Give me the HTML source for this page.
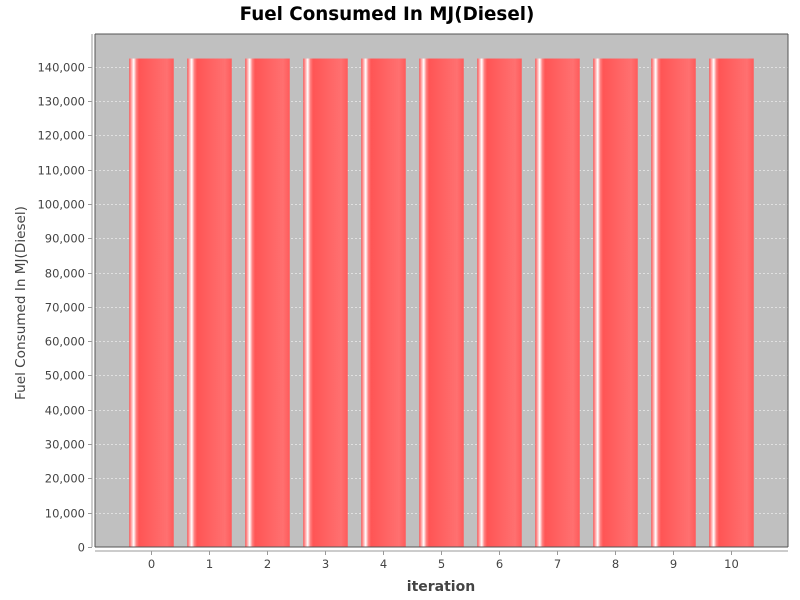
<!DOCTYPE html>
<html><head><meta charset="utf-8"><style>
body{margin:0;background:#fff;}
svg{display:block;font-family:"DejaVu Sans","Liberation Sans",sans-serif;}
</style></head><body>
<svg id="chart" width="800" height="600">
<defs>
<linearGradient id="bg" x1="0" x2="1" y1="0" y2="0">
<stop offset="0" stop-color="#ff5050"/>
<stop offset="0.04" stop-color="#ff9a9a"/>
<stop offset="0.1" stop-color="#ffffff"/>
<stop offset="0.16" stop-color="#ff8080"/>
<stop offset="0.22" stop-color="#ff5555"/>
<stop offset="0.55" stop-color="#ff6363"/>
<stop offset="0.85" stop-color="#ff7070"/>
<stop offset="1" stop-color="#ff5a5a"/>
</linearGradient>
</defs>
<text x="387" y="20" text-anchor="middle" font-size="18.3" font-weight="bold" fill="#000">Fuel Consumed In MJ(Diesel)</text>
<rect x="95" y="34" width="693" height="513" fill="#c0c0c0"/>
<g id="grid"></g>
<g id="bars"></g>
<line x1="95" y1="34" x2="95" y2="547" stroke="#555"/>
<line x1="95" y1="34" x2="788" y2="34" stroke="#555"/>
<line x1="95" y1="547" x2="788" y2="547" stroke="#555"/>
<line x1="788" y1="34" x2="788" y2="547" stroke="#555"/>
<line x1="92" y1="34" x2="92" y2="547" stroke="#999"/>
<line x1="95" y1="551" x2="788" y2="551" stroke="#999"/>
<g id="yticks"></g>
<g id="xticks"></g>
<text x="441" y="591" text-anchor="middle" font-size="14" font-weight="bold" fill="#444">iteration</text>
<text transform="translate(25,303) rotate(-90)" text-anchor="middle" font-size="13.6" fill="#444">Fuel Consumed In MJ(Diesel)</text>
</svg>
<script>
const categories = ["0","1","2","3","4","5","6","7","8","9","10"];
const values = [142400,142400,142400,142400,142400,142400,142400,142400,142400,142400,142400];
const yTicks = [0,10000,20000,30000,40000,50000,60000,70000,80000,90000,100000,110000,120000,130000,140000];

const NS="http://www.w3.org/2000/svg";
const plotL=95, plotR=788, plotT=34, plotB=547;
const yMax=149550;
function y(v){return plotB-(v/yMax)*(plotB-plotT);}
const margin=27.5, step=(plotR-plotL-2*margin)/categories.length, barW=44.5;
function xc(i){return plotL+margin+step*(i+0.5);}
function mk(tag,attrs,parent){const e=document.createElementNS(NS,tag);for(const k in attrs)e.setAttribute(k,attrs[k]);parent.appendChild(e);return e;}
const grid=document.getElementById('grid'), bars=document.getElementById('bars'), yt=document.getElementById('yticks'), xt=document.getElementById('xticks');
yTicks.forEach(v=>{
  const yy=Math.round(y(v))+0.5;
  if(v>0){const g=mk('line',{x1:plotL,x2:plotR,y1:yy,y2:yy,stroke:'#fff','stroke-width':0.6,'stroke-dasharray':'2,2'},grid);
  
  }
  const t=mk('line',{x1:88,x2:92,y1:yy,y2:yy,stroke:'#999'},yt);
  
  
  const l=mk('text',{x:85,y:yy+4,'text-anchor':'end','font-size':11.5,fill:'#444'},yt);
  l.textContent=v.toLocaleString('en-US');
  
  
});
categories.forEach((c,i)=>{
  const cx=xc(i);
  const r=mk('rect',{x:cx-barW/2,y:y(values[i]),width:barW,height:plotB-y(values[i]),fill:'url(#bg)'},bars);
  
  
  const t=mk('line',{x1:cx,x2:cx,y1:551,y2:555,stroke:'#999'},xt);
  
  
  const l=mk('text',{x:cx,y:568,'text-anchor':'middle','font-size':11.5,fill:'#444'},xt);
  l.textContent=c;
  
  
});
</script>
</body></html>
